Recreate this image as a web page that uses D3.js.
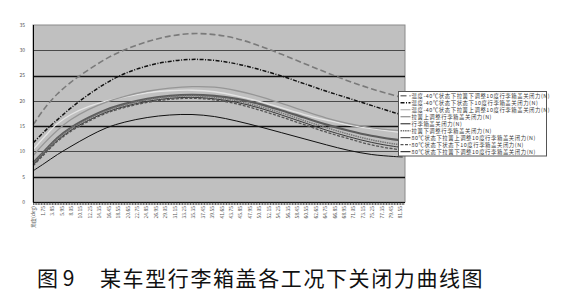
<!DOCTYPE html>
<html>
<head>
<meta charset="utf-8">
<script src="https://cdn.jsdelivr.net/npm/d3@7"></script>
<style>
  body { margin: 0; background: #fff; }
  svg { display: block; font-family: "Noto Sans CJK SC", "DejaVu Sans", sans-serif; }
</style>
</head>
<body>
<svg id="chart" width="572" height="304"></svg>
<script>
// x positions where curve values were read (deg)
const angles = [-0.4, 2, 5, 8, 12, 16, 20, 25, 30, 35, 40, 45, 50, 55, 60, 65, 70, 75, 80, 82];

const seriesNames = [
    "温度-40℃状态下拉簧下调整10度行李箱盖关闭力(N)",
    "温度-40℃状态下状态下10度行李箱盖关闭力(N)",
    "温度-40℃状态下拉簧上调整10度行李箱盖关闭力(N)",
    "拉簧上调整行李箱盖关闭力(N)",
    "行李箱盖关闭力(N)",
    "拉簧下调整行李箱盖关闭力(N)",
    "80℃状态下拉簧上调整10度行李箱盖关闭力(N)",
    "80℃状态下状态下10度行李箱盖关闭力(N)",
    "80℃状态下拉簧下调整10度行李箱盖关闭力(N)"
];

const cold_down = [15.3, 18.4, 21.4, 23.7, 26.2, 28.4, 30.1, 31.7, 32.8, 33.3, 33.1, 32.3, 30.9, 29.2, 27.4, 25.6, 23.9, 22.4, 21.1, 20.7];
const cold_mid  = [11.7, 13.9, 16.3, 18.6, 21.3, 23.6, 25.4, 26.9, 27.8, 28.2, 28.0, 27.3, 26.2, 24.9, 23.4, 21.9, 20.5, 19.1, 17.7, 17.2];
const cold_up   = [10.4, 12.8, 15.5, 17.3, 18.9, 20.0, 20.8, 21.6, 22.0, 22.1, 21.8, 21.0, 19.9, 18.6, 17.3, 16.2, 15.2, 14.5, 13.9, 13.7];
const norm_up   = [9.2, 11.6, 14.2, 16.3, 18.3, 19.8, 20.9, 21.9, 22.5, 22.8, 22.7, 22.0, 20.9, 19.5, 18.0, 16.6, 15.5, 14.7, 14.2, 14.1];
const norm_mid  = [7.8, 10.0, 12.7, 14.7, 16.7, 18.3, 19.4, 20.4, 21.0, 21.2, 21.0, 20.4, 19.4, 18.1, 16.7, 15.3, 14.1, 13.1, 12.4, 12.2];
const norm_down = [7.6, 9.8, 12.5, 14.5, 16.5, 18.1, 19.2, 20.2, 20.8, 21.0, 20.7, 20.0, 18.9, 17.6, 16.1, 14.7, 13.4, 12.3, 11.5, 11.3];
const hot_up    = [7.4, 9.6, 12.2, 14.2, 16.2, 17.8, 18.9, 19.9, 20.5, 20.7, 20.4, 19.7, 18.6, 17.2, 15.7, 14.2, 12.9, 11.8, 11.0, 10.8];
const hot_mid   = [7.2, 9.4, 12.0, 14.0, 16.0, 17.6, 18.7, 19.7, 20.3, 20.5, 20.2, 19.4, 18.2, 16.8, 15.3, 13.8, 12.5, 11.3, 10.5, 10.3];
const hot_down  = [6.2, 7.6, 9.4, 11.0, 13.0, 14.7, 15.8, 16.7, 17.2, 17.3, 16.9, 16.0, 14.9, 13.7, 12.5, 11.3, 10.2, 9.4, 9.0, 8.9];

const seriesValues = [cold_down, cold_mid, cold_up, norm_up, norm_mid, norm_down, hot_up, hot_mid, hot_down];

// category labels on the x axis
const xTickValues = [1.75, 3.85, 5.95, 8.05, 10.15, 12.25, 14.35, 16.45, 18.55, 20.65, 22.75, 24.85, 26.95, 29.05,
    31.15, 33.25, 35.35, 37.45, 39.55, 41.65, 43.75, 45.85, 47.95, 50.05, 52.15, 54.25, 56.35, 58.45, 60.55,
    62.65, 64.75, 66.85, 68.95, 71.05, 73.15, 75.25, 77.35, 79.45, 81.55];
const xFirstLabel = "角度(deg)";
const yTickValues = [0, 5, 10, 15, 20, 25, 30, 35];

const styles = [
    { color: "#7a7a7a", width: 1.6, dash: "6,3" },
    { color: "#111", width: 1.5, dash: "4,1.5,1,1.5" },
    { color: "#e4e4e4", width: 1.3, dash: null },
    { color: "#969696", width: 1.3, dash: null },
    { color: "#5c5c5c", width: 2.2, dash: null },
    { color: "#777", width: 1.5, dash: "1.5,0.8" },
    { color: "#3a3a3a", width: 1, dash: null },
    { color: "#555", width: 1.3, dash: "3,1.5" },
    { color: "#111", width: 1, dash: null }
];

const svg = d3.select("#chart");
const plot = { left: 33, right: 405, top: 25, bottom: 202 };

const x = d3.scaleLinear().domain([-0.48, 82.52]).range([plot.left, plot.right]);
const y = d3.scaleLinear().domain([0, 35]).range([plot.bottom, plot.top]);

svg.append("rect")
    .attr("x", plot.left).attr("y", plot.top)
    .attr("width", plot.right - plot.left).attr("height", plot.bottom - plot.top)
    .attr("fill", "#c0c0c0")
    .attr("stroke", "#8a8a8a");

// gridlines
svg.append("g").selectAll("line")
    .data(yTickValues.filter(d => d > 0 && d < 35))
    .enter().append("line")
    .attr("x1", plot.left).attr("x2", plot.right)
    .attr("y1", d => Math.round(y(d)) + 0.5).attr("y2", d => Math.round(y(d)) + 0.5)
    .attr("stroke", d => d % 10 === 5 ? "#111" : "#4a4a4a")
    .attr("stroke-width", d => d % 10 === 5 ? 1.4 : 1);

// curves
const line = d3.line()
    .x((d, i) => x(angles[i]))
    .y(d => y(d))
    .curve(d3.curveCatmullRom);

svg.append("g").selectAll("path")
    .data(seriesValues)
    .enter().append("path")
    .attr("d", d => line(d))
    .attr("fill", "none")
    .attr("stroke", (d, i) => styles[i].color)
    .attr("stroke-width", (d, i) => styles[i].width)
    .attr("stroke-dasharray", (d, i) => styles[i].dash);

// axes
svg.append("line")
    .attr("x1", plot.left + 0.5).attr("x2", plot.left + 0.5)
    .attr("y1", plot.top).attr("y2", plot.bottom)
    .attr("stroke", "#000");
svg.append("line")
    .attr("x1", plot.left).attr("x2", plot.right)
    .attr("y1", plot.bottom + 0.5).attr("y2", plot.bottom + 0.5)
    .attr("stroke", "#000");

svg.append("g").selectAll("line")
    .data(d3.range(-0.35, 82.4, 0.35))
    .enter().append("line")
    .attr("x1", d => x(d)).attr("x2", d => x(d))
    .attr("y1", plot.bottom).attr("y2", plot.bottom + 3)
    .attr("stroke", "#222")
    .attr("stroke-width", 0.7);

svg.append("g").selectAll("text")
    .data(yTickValues)
    .enter().append("text")
    .attr("x", 25).attr("y", d => y(d) + 1.8)
    .attr("text-anchor", "end")
    .attr("font-size", 5)
    .attr("fill", "#555")
    .text(d => d);

const xLabels = [{ v: -0.35, t: xFirstLabel }].concat(xTickValues.map(v => ({ v: v, t: v.toFixed(2) })));
svg.append("g").selectAll("text")
    .data(xLabels)
    .enter().append("text")
    .attr("transform", d => "translate(" + (x(d.v) + 1.8) + "," + (plot.bottom + 4) + ") rotate(-90)")
    .attr("text-anchor", "end")
    .attr("font-size", 5)
    .attr("fill", "#555")
    .text(d => d.t);

// legend
const legend = svg.append("g");
legend.append("rect")
    .attr("x", 398.5).attr("y", 91.5)
    .attr("width", 148).attr("height", 64.5)
    .attr("fill", "#fff")
    .attr("stroke", "#555");

const rows = legend.selectAll("g.row")
    .data(seriesNames)
    .enter().append("g")
    .attr("class", "row")
    .attr("transform", (d, i) => "translate(0," + (95.7 + i * 7.0) + ")");

rows.append("line")
    .attr("x1", 400.5).attr("x2", 410.5)
    .attr("stroke", (d, i) => i === 2 ? "#bbb" : styles[i].color)
    .attr("stroke-width", (d, i) => Math.min(styles[i].width, 1.4))
    .attr("stroke-dasharray", (d, i) => styles[i].dash);

rows.append("text")
    .attr("x", 411.5).attr("y", 1.9)
    .attr("font-size", 5.4)
    .attr("letter-spacing", 0.55)
    .attr("fill", "#3a3a3a")
    .text(d => d);

// caption
svg.append("text")
    .attr("x", 37).attr("y", 286)
    .attr("font-size", 21)
    .attr("fill", "#111")
    .text("图 9");
svg.append("text")
    .attr("x", 100).attr("y", 286)
    .attr("font-size", 21)
    .attr("letter-spacing", 1.6)
    .attr("fill", "#111")
    .text("某车型行李箱盖各工况下关闭力曲线图");
</script>
</body>
</html>
